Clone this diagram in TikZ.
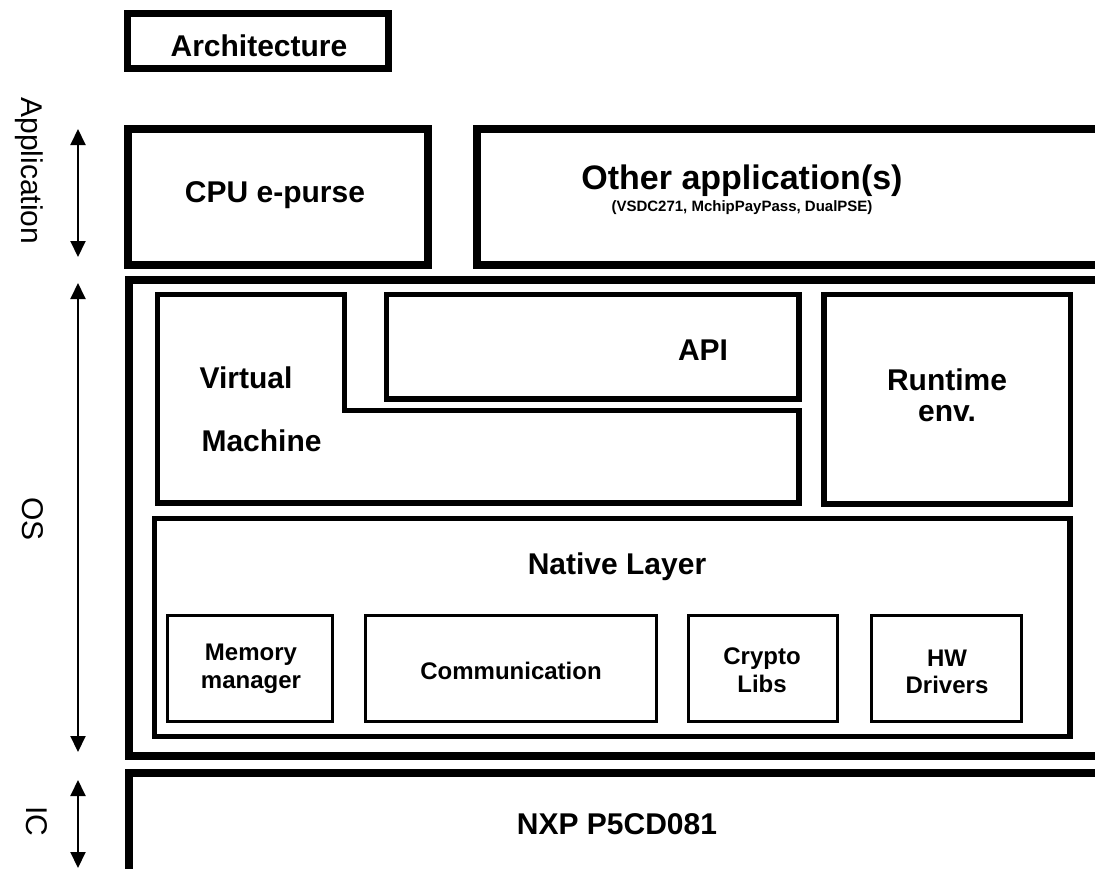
\documentclass[tikz,border=0pt]{standalone}
\usepackage{fontspec}
\setmainfont{Liberation Sans}
\usetikzlibrary{arrows.meta}

\tikzset{
  outerbox/.style={line width=8pt},
  innerbox/.style={line width=5.5pt},
  subbox/.style={line width=3pt},
  bigtext/.style={font=\bfseries\fontsize{30}{34}\selectfont, anchor=base},
  smalltext/.style={font=\bfseries\fontsize{24}{28}\selectfont, anchor=base},
  sidetext/.style={font=\fontsize{30}{34}\selectfont, rotate=-90, anchor=base},
  sidearrow/.style={line width=2pt, {Triangle[length=16pt,width=15pt]}-{Triangle[length=16pt,width=15pt]}},
}

\begin{document}
\begin{tikzpicture}[x=1pt, y=-1pt, line join=miter]
  \useasboundingbox (0,0) rectangle (1095,868);
  \clip (0,0) rectangle (1095,868);

  % Title
  \draw[line width=6.5pt] (127.5,13.5) rectangle (388.5,68.5);
  \node[bigtext] (title) at (259,56) {Architecture};

  % Application layer
  \draw[outerbox] (127.5,129) rectangle (428,265);
  \node[bigtext] (purse) at (275,202) {CPU e-purse};
  \draw[outerbox] (477,129) rectangle (1120,265);
  \node[bigtext, font=\bfseries\fontsize{34}{38}\selectfont] (other) at (742,189) {Other application(s)};
  \node[bigtext, font=\bfseries\fontsize{15}{18}\selectfont] (otherlist) at (742,211) {(VSDC271, MchipPayPass, DualPSE)};

  % OS layer
  \draw[outerbox] (129,280) rectangle (1120,756);
  \draw[innerbox] (157.5,294.5) -- (344.5,294.5) -- (344.5,410.5) -- (799,410.5)
    -- (799,503) -- (157.5,503) -- cycle;
  \node[bigtext, anchor=base west] (vm1) at (196,388) {Virtual};
  \node[bigtext, anchor=base west] (vm2) at (198,451) {Machine};
  \draw[innerbox] (386.5,294.5) rectangle (799,399);
  \node[bigtext] (api) at (703,360) {API};
  \draw[innerbox] (824,294.5) rectangle (1070.5,504);
  \node[bigtext] (rt1) at (947,390) {Runtime};
  \node[bigtext] (rt2) at (947,421) {env.};

  % Native layer
  \draw[innerbox] (154.5,518.5) rectangle (1070,736.5);
  \node[bigtext] (native) at (617,574) {Native Layer};
  \draw[subbox] (167.5,615.5) rectangle (332.5,721.5);
  \node[smalltext] (mem1) at (251,660) {Memory};
  \node[smalltext] (mem2) at (251,688) {manager};
  \draw[subbox] (365.5,615.5) rectangle (656,721.5);
  \node[smalltext] (comm) at (511,679) {Communication};
  \draw[subbox] (688,615.5) rectangle (837.5,721.5);
  \node[smalltext] (crypto1) at (762,664) {Crypto};
  \node[smalltext] (crypto2) at (762,692) {Libs};
  \draw[subbox] (871.5,615.5) rectangle (1021.5,721.5);
  \node[smalltext] (hw1) at (947,666) {HW};
  \node[smalltext] (hw2) at (947,693) {Drivers};

  % IC layer
  \draw[outerbox] (129,773) rectangle (1120,900);
  \node[bigtext] (chip) at (617,834) {NXP P5CD081};

  % Side labels
  \node[sidetext] (applbl) at (21,171) {Application};
  \node[sidetext] (oslbl) at (23,519) {OS};
  \node[sidetext] (iclbl) at (27,821.5) {IC};
  \coordinate (apptop) at (78,129);
  \coordinate (appbot) at (78,257);
  \coordinate (ostop) at (78,283);
  \coordinate (osbot) at (78,752);
  \coordinate (ictop) at (78,780);
  \coordinate (icbot) at (78,868);
  \draw[sidearrow] (apptop) -- (appbot);
  \draw[sidearrow] (ostop) -- (osbot);
  \draw[sidearrow] (ictop) -- (icbot);
\end{tikzpicture}
\end{document}
